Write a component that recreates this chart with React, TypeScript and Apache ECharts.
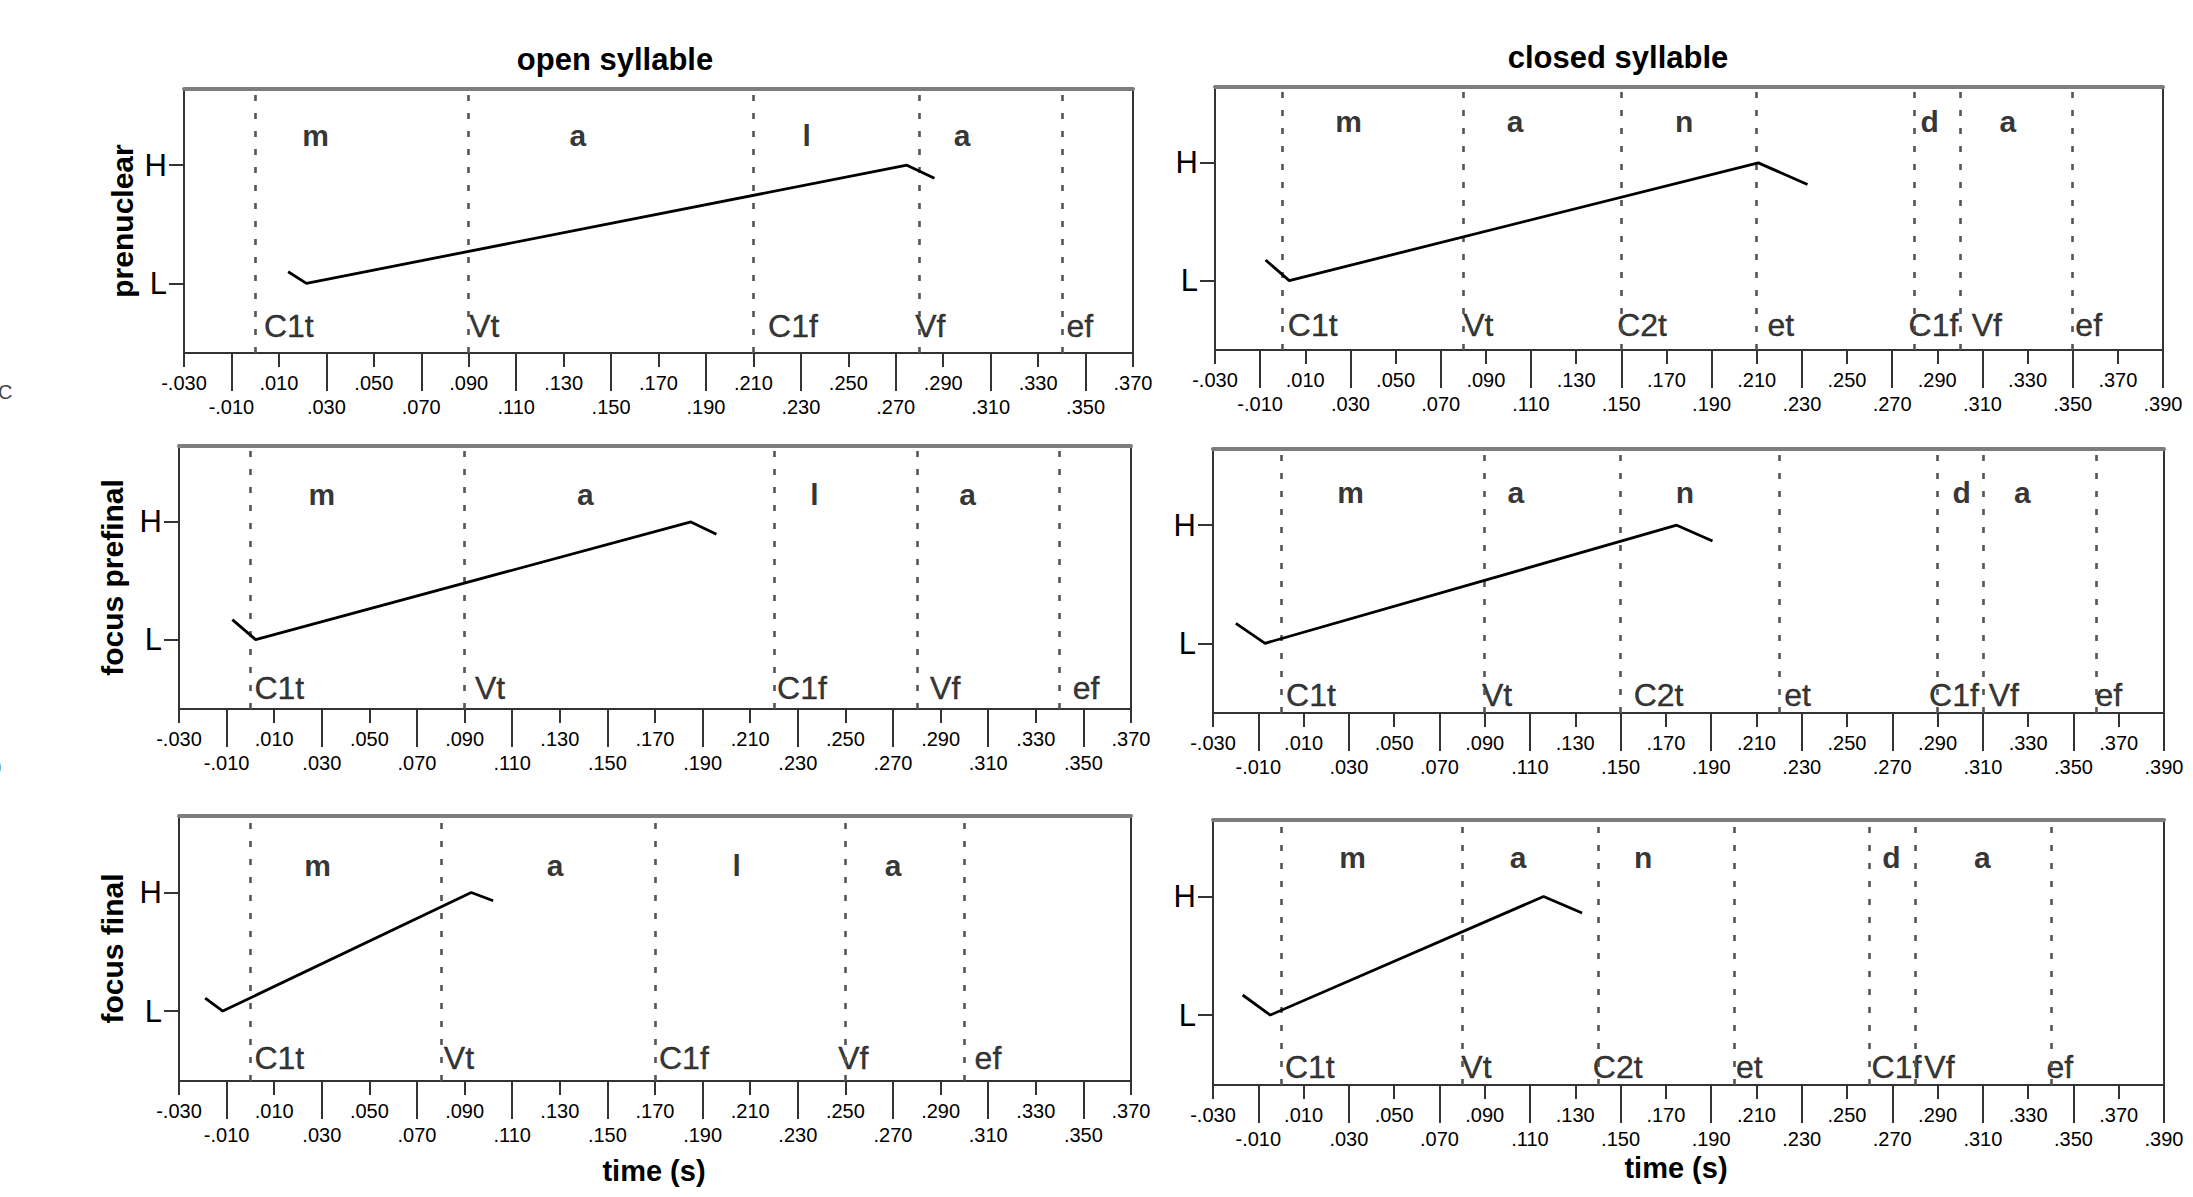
import React, { useEffect, useRef } from "react";
import * as echarts from "echarts";

const FONT = "'Liberation Sans', Arial, Helvetica, sans-serif";

// ---- axes ----
const OPEN_X_MIN = -0.03;
const OPEN_X_MAX = 0.37;
const CLOSED_X_MIN = -0.03;
const CLOSED_X_MAX = 0.39;
const X_STEP = 0.02;
const UPPER_ROW_TICKS_OPEN = [-0.03, 0.01, 0.05, 0.09, 0.13, 0.17, 0.21, 0.25, 0.29, 0.33, 0.37];
const LOWER_ROW_TICKS_OPEN = [-0.01, 0.03, 0.07, 0.11, 0.15, 0.19, 0.23, 0.27, 0.31, 0.35];
const UPPER_ROW_TICKS_CLOSED = [-0.03, 0.01, 0.05, 0.09, 0.13, 0.17, 0.21, 0.25, 0.29, 0.33, 0.37];
const LOWER_ROW_TICKS_CLOSED = [-0.01, 0.03, 0.07, 0.11, 0.15, 0.19, 0.23, 0.27, 0.31, 0.35, 0.39];
const Y_MIN = -0.59;
const Y_MAX = 1.645;
const TONE_LEVELS = [0, 1];
const TONE_NAMES = ["L", "H"];

// ---- texts ----
const COLUMN_TITLES = ["open syllable", "closed syllable"];
const ROW_TITLES = ["prenuclear", "focus prefinal", "focus final"];
const X_TITLE = "time (s)";
const OPEN_SEGMENTS = ["m", "a", "l", "a"];
const CLOSED_SEGMENTS = ["m", "a", "n", "d", "a"];
const OPEN_LANDMARKS = ["C1t", "Vt", "C1f", "Vf", "ef"];
const CLOSED_LANDMARKS = ["C1t", "Vt", "C2t", "et", "C1f", "Vf", "ef"];

// ---- prenuclear ----
const PRE_OPEN_LANDMARK_T = [0.002, 0.0885, 0.2145, 0.2765, 0.3403];
const PRE_OPEN_SEGMENT_T = [0.0255, 0.136, 0.2325, 0.298];
const PRE_OPEN_CONTOUR_T = [0.0139, 0.0216, 0.2747, 0.2863];
const PRE_OPEN_CONTOUR_LEVEL = [0.098, 0, 1, 0.89];

const PRE_CLOSED_LANDMARK_T = [0.0005, 0.0782, 0.1464, 0.213, 0.277, 0.3, 0.3494];
const PRE_CLOSED_LANDMARK_LABEL_T = [0.0005, 0.0782, 0.1464, 0.213, 0.2755, 0.3035, 0.3494];
const PRE_CLOSED_SEGMENT_T = [0.0292, 0.103, 0.1778, 0.2866, 0.3213];
const PRE_CLOSED_CONTOUR_T = [-0.0076, 0.0029, 0.2107, 0.2325];
const PRE_CLOSED_CONTOUR_LEVEL = [0.175, 0, 1, 0.817];

// ---- focus prefinal ----
const PF_OPEN_LANDMARK_T = [0.0, 0.0927, 0.2196, 0.2839, 0.3438];
const PF_OPEN_SEGMENT_T = [0.03, 0.1407, 0.237, 0.3013];
const PF_OPEN_CONTOUR_T = [-0.0076, 0.0022, 0.1851, 0.1958];
const PF_OPEN_CONTOUR_LEVEL = [0.169, 0, 1, 0.896];

const PF_CLOSED_LANDMARK_T = [0.0005, 0.087, 0.154, 0.2205, 0.2902, 0.3108, 0.358];
const PF_CLOSED_LANDMARK_LABEL_T = [0.0005, 0.087, 0.154, 0.2205, 0.2845, 0.3108, 0.358];
const PF_CLOSED_SEGMENT_T = [0.0308, 0.1038, 0.1784, 0.3006, 0.3274];
const PF_CLOSED_CONTOUR_T = [-0.0199, -0.007, 0.1748, 0.1906];
const PF_CLOSED_CONTOUR_LEVEL = [0.168, 0, 1, 0.866];

// ---- focus final ----
const F_OPEN_LANDMARK_T = [0.0, 0.0796, 0.17, 0.2453, 0.3026];
const F_OPEN_SEGMENT_T = [0.0282, 0.128, 0.2043, 0.27];
const F_OPEN_CONTOUR_T = [-0.019, -0.0116, 0.0928, 0.102];
const F_OPEN_CONTOUR_LEVEL = [0.11, 0, 1, 0.93];

const F_CLOSED_LANDMARK_T = [0.0, 0.0779, 0.136, 0.1992, 0.2591, 0.2824, 0.3363];
const F_CLOSED_SEGMENT_T = [0.0317, 0.1047, 0.16, 0.2696, 0.3098];
const F_CLOSED_CONTOUR_T = [-0.0169, -0.0047, 0.116, 0.133];
const F_CLOSED_CONTOUR_LEVEL = [0.169, 0, 1, 0.86];

// label heights (in tone units) per panel: TL, TR, ML, MR, BL, BR
const SEGMENT_LABEL_LEVEL = [1.25, 1.35, 1.235, 1.28, 1.227, 1.33];
const LANDMARK_LABEL_LEVEL = [-0.36, -0.38, -0.41, -0.435, -0.394, -0.44];

// ---- layout (pixels) ----
const GRID_RECTS = [
  { left: 184, top: 89, width: 949, height: 264 },
  { left: 1215, top: 87, width: 948, height: 263 },
  { left: 179, top: 446, width: 952, height: 263 },
  { left: 1213, top: 449, width: 951, height: 264 },
  { left: 179, top: 816, width: 952, height: 265 },
  { left: 1213, top: 820, width: 951, height: 265 },
];
const ROW_NAME_GAP = [47, 52, 52];

type Panel = {
  landmarkT: number[];
  landmarkLabelT: number[];
  segmentT: number[];
  contourT: number[];
  contourLevel: number[];
};

const PANELS: Panel[] = [
  { landmarkT: PRE_OPEN_LANDMARK_T, landmarkLabelT: PRE_OPEN_LANDMARK_T, segmentT: PRE_OPEN_SEGMENT_T, contourT: PRE_OPEN_CONTOUR_T, contourLevel: PRE_OPEN_CONTOUR_LEVEL },
  { landmarkT: PRE_CLOSED_LANDMARK_T, landmarkLabelT: PRE_CLOSED_LANDMARK_LABEL_T, segmentT: PRE_CLOSED_SEGMENT_T, contourT: PRE_CLOSED_CONTOUR_T, contourLevel: PRE_CLOSED_CONTOUR_LEVEL },
  { landmarkT: PF_OPEN_LANDMARK_T, landmarkLabelT: PF_OPEN_LANDMARK_T, segmentT: PF_OPEN_SEGMENT_T, contourT: PF_OPEN_CONTOUR_T, contourLevel: PF_OPEN_CONTOUR_LEVEL },
  { landmarkT: PF_CLOSED_LANDMARK_T, landmarkLabelT: PF_CLOSED_LANDMARK_LABEL_T, segmentT: PF_CLOSED_SEGMENT_T, contourT: PF_CLOSED_CONTOUR_T, contourLevel: PF_CLOSED_CONTOUR_LEVEL },
  { landmarkT: F_OPEN_LANDMARK_T, landmarkLabelT: F_OPEN_LANDMARK_T, segmentT: F_OPEN_SEGMENT_T, contourT: F_OPEN_CONTOUR_T, contourLevel: F_OPEN_CONTOUR_LEVEL },
  { landmarkT: F_CLOSED_LANDMARK_T, landmarkLabelT: F_CLOSED_LANDMARK_T, segmentT: F_CLOSED_SEGMENT_T, contourT: F_CLOSED_CONTOUR_T, contourLevel: F_CLOSED_CONTOUR_LEVEL },
];

const fmtTick = (v: number) => v.toFixed(3).replace(/^(-?)0\./, "$1.");

const tickLabelStyle = {
  show: true,
  showMinLabel: true,
  showMaxLabel: true,
  fontSize: 20,
  fontFamily: FONT,
  color: "#000",
  lineHeight: 24,
  formatter: (v: number) => fmtTick(v),
};

function buildOption() {
  const grid: any[] = [];
  const xAxis: any[] = [];
  const yAxis: any[] = [];
  const series: any[] = [];

  PANELS.forEach((p, i) => {
    const row = Math.floor(i / 2);
    const col = i % 2;
    const xMin = col === 0 ? OPEN_X_MIN : CLOSED_X_MIN;
    const xMax = col === 0 ? OPEN_X_MAX : CLOSED_X_MAX;
    const upperTicks = col === 0 ? UPPER_ROW_TICKS_OPEN : UPPER_ROW_TICKS_CLOSED;
    const lowerTicks = col === 0 ? LOWER_ROW_TICKS_OPEN : LOWER_ROW_TICKS_CLOSED;
    const segments = col === 0 ? OPEN_SEGMENTS : CLOSED_SEGMENTS;
    const landmarks = col === 0 ? OPEN_LANDMARKS : CLOSED_LANDMARKS;

    grid.push({
      ...GRID_RECTS[i],
      show: true,
      borderColor: "#333",
      borderWidth: 2,
      backgroundColor: "transparent",
    });

    // main bottom axis: short ticks every 0.02 + upper label row
    xAxis.push({
      gridIndex: i,
      type: "value",
      position: "bottom",
      min: xMin,
      max: xMax,
      interval: X_STEP,
      axisLine: { show: true, onZero: false, lineStyle: { color: "#333", width: 2 } },
      axisTick: { show: true, length: 14, lineStyle: { color: "#333", width: 2 } },
      axisLabel: { ...tickLabelStyle, customValues: upperTicks, margin: 18 },
      splitLine: { show: false },
    });
    // long ticks + lower label row
    xAxis.push({
      gridIndex: i,
      type: "value",
      position: "bottom",
      min: xMin,
      max: xMax,
      axisLine: { show: false, onZero: false },
      axisTick: { show: true, length: 38, customValues: lowerTicks, lineStyle: { color: "#333", width: 2 } },
      axisLabel: { ...tickLabelStyle, customValues: lowerTicks, margin: 42 },
      splitLine: { show: false },
    });
    // top frame
    xAxis.push({
      gridIndex: i,
      type: "value",
      position: "top",
      min: xMin,
      max: xMax,
      axisLine: { show: true, onZero: false, lineStyle: { color: "#7d7d7d", width: 4 } },
      axisTick: { show: false },
      axisLabel: { show: false },
      splitLine: { show: false },
    });

    yAxis.push({
      gridIndex: i,
      type: "value",
      min: Y_MIN,
      max: Y_MAX,
      axisLine: { show: true, onZero: false, lineStyle: { color: "#333", width: 2 } },
      axisTick: { show: true, length: 15, customValues: TONE_LEVELS, lineStyle: { color: "#333", width: 2 } },
      axisLabel: {
        show: true,
        customValues: TONE_LEVELS,
        fontSize: 31,
        fontFamily: FONT,
        color: "#000",
        margin: 17,
        formatter: (v: number) => TONE_NAMES[TONE_LEVELS.indexOf(Math.round(v))] ?? "",
      },
      splitLine: { show: false },
      name: col === 0 ? ROW_TITLES[row] : "",
      nameLocation: "middle",
      nameRotate: 90,
      nameGap: ROW_NAME_GAP[row],
      nameTextStyle: { fontSize: 30, fontWeight: "bold", fontFamily: FONT, color: "#000" },
    });

    const xi = i * 3;
    series.push({
      type: "line",
      xAxisIndex: xi,
      yAxisIndex: i,
      data: p.contourT.map((t, j) => [t, p.contourLevel[j]]),
      showSymbol: false,
      symbol: "none",
      lineStyle: { color: "#000", width: 2.8 },
      z: 5,
      markLine: {
        silent: true,
        symbol: ["none", "none"],
        label: { show: false },
        lineStyle: { type: [6, 12], color: "#555", width: 2.6 },
        data: p.landmarkT.map((t) => ({ xAxis: t })),
      },
    });
    series.push({
      type: "scatter",
      xAxisIndex: xi,
      yAxisIndex: i,
      symbolSize: 1,
      itemStyle: { color: "transparent" },
      data: p.segmentT.map((t, j) => ({ value: [t, SEGMENT_LABEL_LEVEL[i]], name: segments[j] })),
      label: {
        show: true,
        position: "inside",
        formatter: "{b}",
        fontSize: 30,
        fontWeight: "bold",
        fontFamily: FONT,
        color: "#000",
        align: "center",
        verticalAlign: "middle",
      },
    });
    series.push({
      type: "scatter",
      xAxisIndex: xi,
      yAxisIndex: i,
      symbolSize: 1,
      itemStyle: { color: "transparent" },
      data: p.landmarkLabelT.map((t, j) => ({ value: [t, LANDMARK_LABEL_LEVEL[i]], name: landmarks[j] })),
      label: {
        show: true,
        position: "inside",
        formatter: "{b}",
        fontSize: 32,
        fontFamily: FONT,
        color: "#000",
        align: "left",
        verticalAlign: "middle",
        offset: [4, 0],
        textBorderColor: "#000",
        textBorderWidth: 0.4,
      },
    });
  });

  const graphic: any[] = [
    { type: "text", x: 615, y: 59, style: { text: COLUMN_TITLES[0], font: `bold 31px ${FONT}`, fill: "#000", align: "center", verticalAlign: "middle" } },
    { type: "text", x: 1618, y: 57, style: { text: COLUMN_TITLES[1], font: `bold 31px ${FONT}`, fill: "#000", align: "center", verticalAlign: "middle" } },
    { type: "text", x: 654, y: 1171, style: { text: X_TITLE, font: `bold 29px ${FONT}`, fill: "#000", align: "center", verticalAlign: "middle" } },
    { type: "text", x: 1676, y: 1168, style: { text: X_TITLE, font: `bold 29px ${FONT}`, fill: "#000", align: "center", verticalAlign: "middle" } },
    { type: "text", x: -2, y: 392, style: { text: "C", font: `20px ${FONT}`, fill: "#444", align: "left", verticalAlign: "middle" } },
    { type: "text", x: -5, y: 766, style: { text: ")", font: `20px ${FONT}`, fill: "#444", align: "left", verticalAlign: "middle" } },
  ];

  return {
    animation: false,
    backgroundColor: "#ffffff",
    textStyle: { fontFamily: FONT },
    grid,
    xAxis,
    yAxis,
    series,
    graphic,
  };
}

export default function App() {
  const ref = useRef<HTMLDivElement>(null);
  useEffect(() => {
    if (!ref.current) return;
    const chart = echarts.init(ref.current, undefined, { renderer: "svg" });
    chart.setOption(buildOption() as any);
    return () => chart.dispose();
  }, []);
  return (
    <div
      ref={ref}
      style={{ position: "fixed", left: 0, top: 0, width: 2193, height: 1197, background: "#fff" }}
    />
  );
}
